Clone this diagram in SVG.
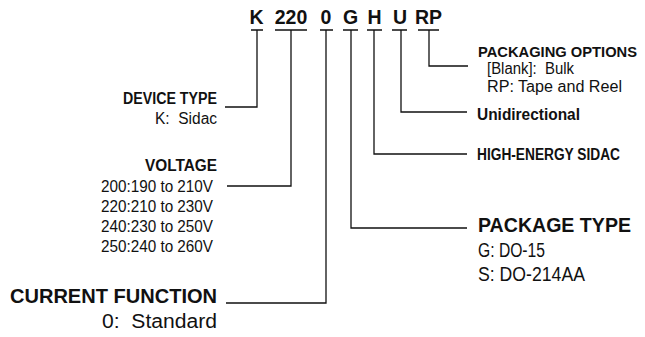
<svg xmlns="http://www.w3.org/2000/svg" width="645" height="337" viewBox="0 0 645 337">
<style>
text{font-family:"Liberation Sans",Arial,sans-serif;fill:#111}
.code{font-size:19.5px;font-weight:bold;text-anchor:middle}
.hs{font-size:16px;font-weight:bold}
.ds{font-size:16px}
.hl{font-size:21px;font-weight:bold}
.dl{font-size:20px}
.end{text-anchor:end}
.ln{fill:none;stroke:#111;stroke-width:1.3}
</style>
<rect width="645" height="337" fill="#fff"/>
<g id="code">
<text class="code" x="256.5" y="24">K</text>
<text class="code" x="291" y="24">220</text>
<text class="code" x="326" y="24">0</text>
<text class="code" x="350.5" y="24">G</text>
<text class="code" x="374.5" y="24">H</text>
<text class="code" x="400" y="24">U</text>
<text class="code" x="428.5" y="24">RP</text>
</g>
<g id="connectors" class="ln">
<path d="M251 30H263M275 30H307M320 30H333M343 30H358M367 30H382M392 30H407M418 30H439"/>
<path d="M257 30V107H225"/>
<path d="M291 30V186H227"/>
<path d="M326 30V303H226"/>
<path d="M351 30V228H467"/>
<path d="M374 30V154H467"/>
<path d="M401 30V112H467"/>
<path d="M429 30V66H468"/>
</g>
<g id="device-type">
<text class="hs end" x="217" y="104" textLength="94" lengthAdjust="spacingAndGlyphs">DEVICE TYPE</text>
<text class="ds end" x="217" y="124" xml:space="preserve" textLength="62" lengthAdjust="spacingAndGlyphs">K:  Sidac</text>
</g>
<g id="voltage">
<text class="hs end" x="217" y="171" textLength="72" lengthAdjust="spacingAndGlyphs">VOLTAGE</text>
<text class="ds" x="101" y="192" textLength="112" lengthAdjust="spacingAndGlyphs">200:190 to 210V</text>
<text class="ds" x="101" y="212" textLength="112" lengthAdjust="spacingAndGlyphs">220:210 to 230V</text>
<text class="ds" x="101" y="232" textLength="112" lengthAdjust="spacingAndGlyphs">240:230 to 250V</text>
<text class="ds" x="101" y="252" textLength="112" lengthAdjust="spacingAndGlyphs">250:240 to 260V</text>
</g>
<g id="current-function">
<text class="hl" x="10" y="303" textLength="207" lengthAdjust="spacingAndGlyphs">CURRENT FUNCTION</text>
<text class="dl end" x="217" y="328" xml:space="preserve" textLength="115" lengthAdjust="spacingAndGlyphs">0:  Standard</text>
</g>
<g id="package-type">
<text class="hl" x="478" y="232" textLength="153" lengthAdjust="spacingAndGlyphs">PACKAGE TYPE</text>
<text class="dl" x="478" y="257" textLength="67" lengthAdjust="spacingAndGlyphs">G: DO-15</text>
<text class="dl" x="478" y="281" textLength="107" lengthAdjust="spacingAndGlyphs">S: DO-214AA</text>
</g>
<g id="high-energy">
<text class="hs" x="477" y="160" textLength="143" lengthAdjust="spacingAndGlyphs">HIGH-ENERGY SIDAC</text>
</g>
<g id="unidirectional">
<text class="hs" x="477" y="120" textLength="103" lengthAdjust="spacingAndGlyphs">Unidirectional</text>
</g>
<g id="packaging-options">
<text class="hs" x="478" y="57" style="font-size:14.5px" textLength="159" lengthAdjust="spacingAndGlyphs">PACKAGING OPTIONS</text>
<text class="ds" x="487" y="74" xml:space="preserve" textLength="87" lengthAdjust="spacingAndGlyphs">[Blank]:  Bulk</text>
<text class="ds" x="487" y="92" textLength="135" lengthAdjust="spacingAndGlyphs">RP: Tape and Reel</text>
</g>
</svg>
